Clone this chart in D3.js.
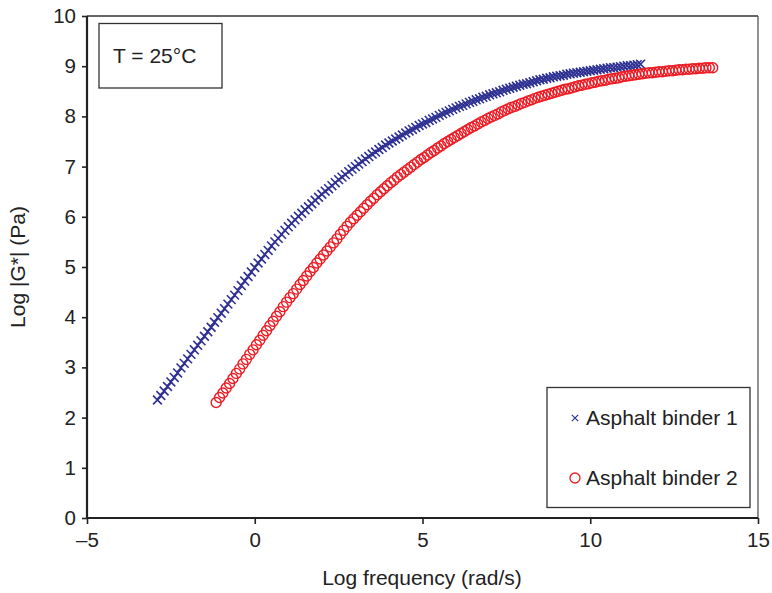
<!DOCTYPE html>
<html><head><meta charset="utf-8">
<script src="https://cdn.jsdelivr.net/npm/d3@7"></script>
<style>
body{margin:0;background:#fff;}
text{font-family:"Liberation Sans",Arial,sans-serif;fill:#222;}
</style></head>
<body><svg id="c" width="772" height="593"></svg>
<script>
const xTicks = [-5, 0, 5, 10, 15];
const yTicks = [0,1,2,3,4,5,6,7,8,9,10];
const xTickLabels = ["\u20135","0","5","10","15"];
const seriesNames = ["Asphalt binder 1","Asphalt binder 2"];

const binder1X = [-2.9,-2.8,-2.7,-2.6,-2.5,-2.4,-2.3,-2.2,-2.1,-2.0,-1.9,-1.8,-1.7,-1.6,-1.5,-1.4,-1.3,-1.2,-1.1,-1.0,-0.9,-0.8,-0.7,-0.6,-0.5,-0.4,-0.3,-0.2,-0.1,0.0,
0.1,0.2,0.3,0.4,0.5,0.6,0.7,0.8,0.9,1.0,1.1,1.2,1.3,1.4,1.5,1.6,1.7,1.8,1.9,2.0,2.1,2.2,2.3,2.4,2.5,2.6,2.7,2.8,2.9,3.0,
3.1,3.2,3.3,3.4,3.5,3.6,3.7,3.8,3.9,4.0,4.1,4.2,4.3,4.4,4.5,4.6,4.7,4.8,4.9,5.0,5.1,5.2,5.3,5.4,5.5,5.6,5.7,5.8,5.9,6.0,
6.1,6.2,6.3,6.4,6.5,6.6,6.7,6.8,6.9,7.0,7.1,7.2,7.3,7.4,7.5,7.6,7.7,7.8,7.9,8.0,8.1,8.2,8.3,8.4,8.5,8.6,8.7,8.8,8.9,9.0,
9.1,9.2,9.3,9.4,9.5,9.6,9.7,9.8,9.9,10.0,10.1,10.2,10.3,10.4,10.5,10.6,10.7,10.8,10.9,11.0,11.1,11.2,11.3,11.4,11.5];
const binder1Y = [2.35,2.44,2.53,2.62,2.71,2.80,2.89,2.99,3.08,3.17,3.26,3.35,3.44,3.53,3.62,3.71,3.80,3.90,3.99,4.08,4.17,4.26,4.35,4.44,4.53,4.63,4.72,4.81,4.90,4.99,
5.08,5.16,5.25,5.33,5.42,5.50,5.57,5.65,5.73,5.80,5.87,5.94,6.01,6.07,6.14,6.20,6.26,6.33,6.39,6.45,6.51,6.56,6.62,6.68,6.74,6.79,6.84,6.90,6.95,7.00,
7.05,7.10,7.15,7.20,7.25,7.29,7.34,7.38,7.43,7.47,7.51,7.55,7.59,7.63,7.67,7.71,7.74,7.78,7.82,7.85,7.88,7.92,7.95,7.98,8.02,8.05,8.08,8.11,8.14,8.17,
8.20,8.22,8.25,8.28,8.30,8.33,8.35,8.38,8.40,8.43,8.45,8.47,8.49,8.52,8.54,8.56,8.58,8.60,8.62,8.64,8.65,8.67,8.69,8.71,8.73,8.74,8.76,8.77,8.79,8.80,
8.81,8.82,8.84,8.85,8.86,8.87,8.88,8.89,8.90,8.91,8.92,8.93,8.94,8.95,8.96,8.97,8.97,8.98,8.99,9.00,9.01,9.01,9.02,9.03,9.04];

const binder2X = [-1.15,-1.05,-0.95,-0.85,-0.75,-0.65,-0.55,-0.45,-0.35,-0.25,-0.15,-0.05,0.05,0.15,0.25,0.35,0.45,0.55,0.65,0.75,0.85,0.95,
1.05,1.15,1.25,1.35,1.45,1.55,1.65,1.75,1.85,1.95,2.05,2.15,2.25,2.35,2.45,2.55,2.65,2.75,2.85,2.95,3.05,3.15,3.25,3.35,3.45,3.55,3.65,3.75,3.85,
3.95,4.05,4.15,4.25,4.35,4.45,4.55,4.65,4.75,4.85,4.95,5.05,5.15,5.25,5.35,5.45,5.55,5.65,5.75,5.85,5.95,6.05,6.15,6.25,6.35,6.45,6.55,6.65,6.75,6.85,
6.95,7.05,7.15,7.25,7.35,7.45,7.55,7.65,7.75,7.85,7.95,8.05,8.15,8.25,8.35,8.45,8.55,8.65,8.75,8.85,8.95,9.05,9.15,9.25,9.35,9.45,9.55,9.65,9.75,9.85,
9.95,10.05,10.15,10.25,10.35,10.45,10.55,10.65,10.75,10.85,10.95,11.05,11.15,11.25,11.35,11.45,11.55,11.65,11.75,11.85,11.95,12.05,12.15,12.25,12.35,12.45,
12.55,12.65,12.75,12.85,12.95,13.05,13.15,13.25,13.35,13.45,13.55,13.65];
const binder2Y = [2.30,2.40,2.49,2.59,2.68,2.78,2.88,2.97,3.07,3.16,3.26,3.35,3.45,3.54,3.64,3.73,3.83,3.92,4.02,4.11,4.21,4.30,
4.39,4.47,4.56,4.65,4.73,4.82,4.91,4.99,5.08,5.16,5.24,5.32,5.40,5.48,5.56,5.65,5.73,5.81,5.89,5.96,6.03,6.10,6.17,6.24,6.31,6.37,6.44,6.50,6.56,
6.62,6.68,6.73,6.79,6.84,6.89,6.94,6.99,7.04,7.09,7.14,7.18,7.23,7.28,7.32,7.37,7.41,7.46,7.50,7.54,7.58,7.62,7.66,7.70,7.74,7.78,7.81,7.85,7.89,7.92,
7.96,7.99,8.02,8.05,8.09,8.12,8.15,8.18,8.20,8.23,8.26,8.28,8.31,8.33,8.36,8.38,8.40,8.42,8.44,8.46,8.48,8.50,8.52,8.54,8.55,8.57,8.59,8.61,8.62,8.64,
8.65,8.67,8.68,8.70,8.71,8.72,8.74,8.75,8.76,8.77,8.79,8.80,8.81,8.82,8.83,8.84,8.85,8.86,8.87,8.87,8.88,8.89,8.89,8.90,8.91,8.91,
8.92,8.93,8.93,8.94,8.94,8.95,8.95,8.96,8.96,8.97,8.97,8.97];

const blue = "#2e3192", red = "#ed1c24";
const svg = d3.select("#c");
const x = d3.scaleLinear().domain([-5, 15]).range([87, 758]);
const y = d3.scaleLinear().domain([0, 10]).range([518, 16]);

// frame
svg.append("line").attr("x1",87).attr("x2",758).attr("y1",16).attr("y2",16).attr("stroke","#333").attr("stroke-width",1.3);
svg.append("line").attr("x1",758).attr("x2",758).attr("y1",16).attr("y2",518).attr("stroke","#555").attr("stroke-width",1.3);

// axes
const xAxis = d3.axisBottom(x).tickValues(xTicks).tickSize(6).tickPadding(8)
  .tickFormat((d,i)=>xTickLabels[i]);
const gx = svg.append("g").attr("transform","translate(0,518)").call(xAxis);
const yAxis = d3.axisLeft(y).tickValues(yTicks).tickSize(5).tickPadding(6);
const gy = svg.append("g").attr("transform","translate(87,0)").call(yAxis);
[gx, gy].forEach(g=>{
  g.select(".domain").attr("stroke","#222").attr("stroke-width",2.2);
  g.selectAll(".tick line").attr("stroke","#222").attr("stroke-width",1.6);
  g.selectAll(".tick text").attr("font-size",20.5).attr("fill","#222")
    .style("font-family","'Liberation Sans',Arial,sans-serif");
});
gx.select(".domain").attr("d","M87,0H758");
gy.select(".domain").attr("d","M0,16V518");

// titles
svg.append("text").attr("x",422).attr("y",585).attr("text-anchor","middle").attr("font-size",21).text("Log frequency (rad/s)");
svg.append("text").attr("transform","translate(25,267) rotate(-90)").attr("text-anchor","middle").attr("font-size",21).text("Log |G*| (Pa)");

// T box
svg.append("rect").attr("x",99).attr("y",23.5).attr("width",123).attr("height",64.5).attr("fill","#fff").attr("stroke","#333").attr("stroke-width",1.3);
svg.append("text").attr("x",113).attr("y",63).attr("font-size",21).text("T = 25\u00B0C");

// series
const d1 = binder1X.map((v,i)=>({x:v,y:binder1Y[i]}));
const d2 = binder2X.map((v,i)=>({x:v,y:binder2Y[i]}));
const s = 4.4;
const xPath = `M${-s},${-s}L${s},${s}M${-s},${s}L${s},${-s}`;
svg.append("g").selectAll("path").data(d1).join("path")
  .attr("d",xPath).attr("transform",d=>`translate(${x(d.x)},${y(d.y)})`)
  .attr("stroke",blue).attr("stroke-width",1.6).attr("fill","none");
svg.append("g").selectAll("circle").data(d2).join("circle")
  .attr("cx",d=>x(d.x)).attr("cy",d=>y(d.y)).attr("r",5)
  .attr("fill","none").attr("stroke",red).attr("stroke-width",1.4);

// legend
svg.append("rect").attr("x",547).attr("y",387.5).attr("width",203).attr("height",120).attr("fill","#fff").attr("stroke","#333").attr("stroke-width",1.3);
const ls = 3.2;
svg.append("path").attr("d",`M${-ls},${-ls}L${ls},${ls}M${-ls},${ls}L${ls},${-ls}`)
  .attr("transform","translate(575,418)").attr("stroke",blue).attr("stroke-width",1.2).attr("fill","none");
svg.append("circle").attr("cx",575).attr("cy",478).attr("r",5).attr("fill","none").attr("stroke",red).attr("stroke-width",1.3);
svg.append("text").attr("x",586).attr("y",425).attr("font-size",21).text(seriesNames[0]);
svg.append("text").attr("x",586).attr("y",485).attr("font-size",21).text(seriesNames[1]);
</script></body></html>
